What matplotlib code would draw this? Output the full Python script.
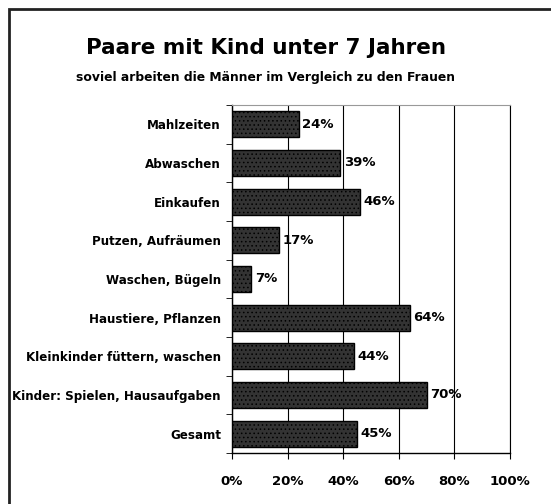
import matplotlib.pyplot as plt
from matplotlib.patches import Rectangle

categories = ["Mahlzeiten", "Abwaschen", "Einkaufen", "Putzen, Aufräumen",
              "Waschen, Bügeln", "Haustiere, Pflanzen",
              "Kleinkinder füttern, waschen", "Kinder: Spielen, Hausaufgaben",
              "Gesamt"]
values = [24, 39, 46, 17, 7, 64, 44, 70, 45]
xticks = [0, 20, 40, 60, 80, 100]
xticklabels = ["0%", "20%", "40%", "60%", "80%", "100%"]

plt.rcParams['font.family'] = ['DejaVu Sans']
plt.rcParams['font.weight'] = 'bold'
plt.rcParams['hatch.color'] = '#4a4a4a'
plt.rcParams['hatch.linewidth'] = 0.6

fig = plt.figure(figsize=(5.51, 5.04), dpi=100)
W, H = 551, 504

# outer frame
fig.patches.append(Rectangle((9 / W, -0.1), 2, 1.1 - 9 / H,
                             transform=fig.transFigure, fill=False,
                             edgecolor="#222222", linewidth=2))

fig.text(266 / W, 1 - 48 / H, "Paare mit Kind unter 7 Jahren",
         ha="center", va="center", fontsize=15.5, fontweight="bold")
fig.text(266 / W, 1 - 77 / H, "soviel arbeiten die Männer im Vergleich zu den Frauen",
         ha="center", va="center", fontsize=8.9, fontweight="bold")

ax = fig.add_axes([232 / W, 1 - 453 / H, (510 - 232) / W, (453 - 105) / H])
y = list(range(len(categories)))
ax.barh(y, values, height=0.68, color="#333333", edgecolor="black",
        linewidth=1, hatch="....", zorder=3)
for yi, v in zip(y, values):
    ax.text(v + 1.2, yi, f"{v}%", va="center", ha="left",
            fontsize=9.5, fontweight="bold", zorder=4)

ax.set_xlim(0, 100)
ax.set_ylim(len(categories) - 0.5, -0.5)
ax.set_xticks(xticks)
ax.set_xticklabels(xticklabels, fontsize=9.5, fontweight="bold")
ax.set_yticks(y)
ax.set_yticklabels(categories, fontsize=8.6, fontweight="bold")
ax.set_yticks([i + 0.5 for i in range(-1, len(categories))], minor=True)
ax.tick_params(axis="y", which="major", length=0, pad=8)
ax.tick_params(axis="y", which="minor", length=4, direction="out")
ax.tick_params(axis="x", length=4, direction="out", pad=12)
ax.grid(axis="x", color="black", linewidth=0.8, zorder=0)
ax.spines["top"].set_color("#999999")
ax.spines["right"].set_color("black")
ax.spines["left"].set_linewidth(1)
ax.spines["bottom"].set_linewidth(1)

fig.savefig("out.png", dpi=100)
